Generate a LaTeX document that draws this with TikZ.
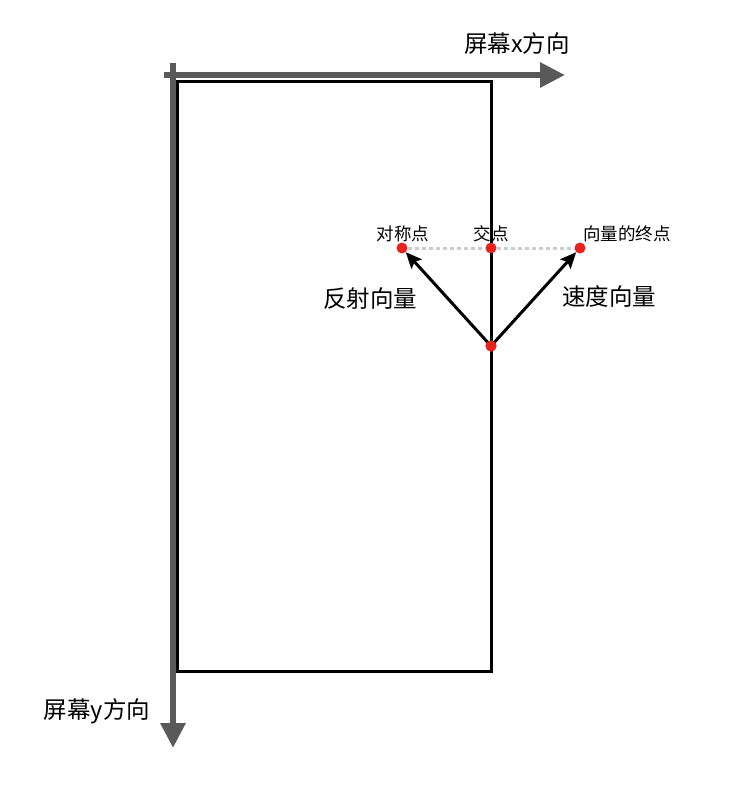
\documentclass[tikz,border=0pt]{standalone}
\usepackage{fontspec}
\setmainfont{Noto Sans CJK SC}
\usetikzlibrary{arrows.meta}
\definecolor{axisgray}{HTML}{595959}
\definecolor{dotred}{HTML}{E8231E}
\definecolor{dotline}{HTML}{CCCCCC}
\tikzset{
  axis/.style={draw=axisgray, line width=6pt, -{Triangle[length=25pt,width=24pt]}},
  vec/.style={draw=black, line width=3pt, -{Stealth[length=16pt,width=14pt,inset=3pt]}},
  reddot/.style={circle, fill=dotred, inner sep=0pt, minimum size=11pt},
  biglbl/.style={font=\fontsize{23.5}{26}\selectfont, inner sep=0pt},
  smalllbl/.style={font=\fontsize{17.5}{20}\selectfont, inner sep=0pt},
}
\begin{document}
\begin{tikzpicture}[x=1pt,y=-1pt]
\useasboundingbox (0,0) rectangle (736,792);
\coordinate (xs) at (164,75);
\coordinate (xe) at (565,75);
\coordinate (ys) at (173,63);
\coordinate (ye) at (173,748);
\draw[axis] (xs) -- (xe);
\draw[axis] (ys) -- (ye);
\draw[line width=3pt] (177,81) rectangle (491,671);
\node[reddot] (sym) at (402,248) {};
\node[reddot] (cross) at (491,248) {};
\node[reddot] (end) at (580,248) {};
\node[reddot] (org) at (491,346) {};
\draw[dotline, line width=3pt, dash pattern=on 4pt off 3pt] (sym) -- (cross) -- (end);
\draw[vec] (org.center) -- (sym);
\draw[vec] (org.center) -- (end);
\node[reddot] at (org) {};
\node[smalllbl] (l1) at (403,234) {对称点};
\node[smalllbl] (l2) at (491,234) {交点};
\node[smalllbl] (l3) at (627,234) {向量的终点};
\node[biglbl] (l4) at (370,299) {反射向量};
\node[biglbl] (l5) at (609,297) {速度向量};
\node[biglbl] (l6) at (517,44) {屏幕x方向};
\node[biglbl] (l7) at (97,711) {屏幕y方向};
\end{tikzpicture}
\end{document}
